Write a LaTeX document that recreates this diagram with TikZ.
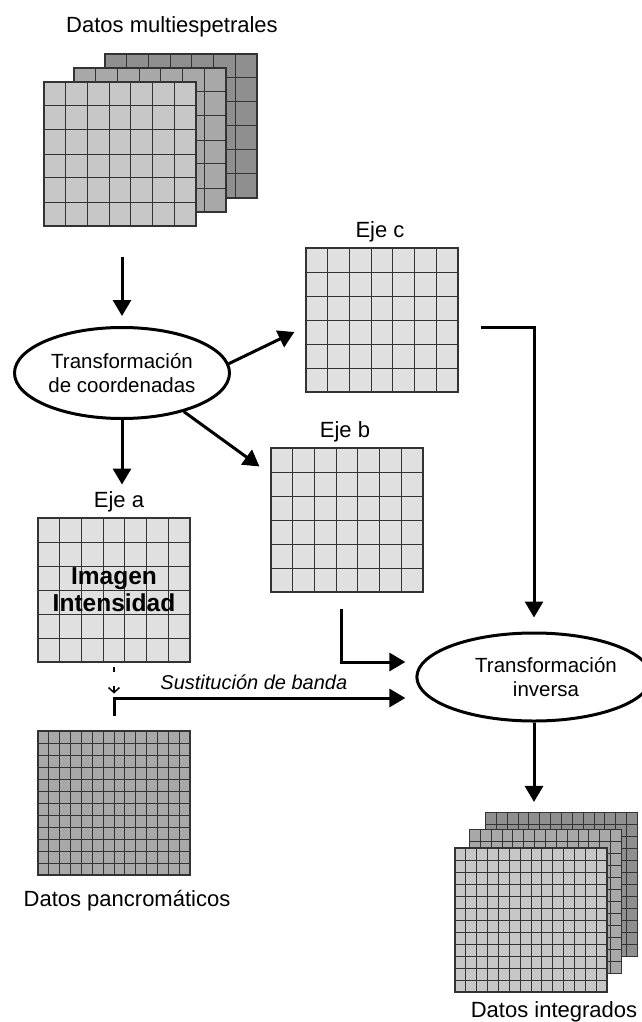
\documentclass[tikz,border=0pt]{standalone}
\usepackage{fontspec}
\setmainfont{Liberation Sans}
\usepackage{tikz}
\usetikzlibrary{shapes.geometric, arrows.meta, positioning, calc}

\definecolor{capauno}{gray}{0.78}
\definecolor{capados}{gray}{0.66}
\definecolor{capatres}{gray}{0.56}
\definecolor{ejegris}{gray}{0.88}
\definecolor{pangris}{gray}{0.66}

% cell lines of a raster: #1 columns, #2 rows
\newcommand{\rejilla}[2]{%
  \foreach \i in {1,...,#1}
    \draw[linea] ($(path picture bounding box.north west)!\i/#1!(path picture bounding box.north east)$) -- ($(path picture bounding box.south west)!\i/#1!(path picture bounding box.south east)$);
  \foreach \j in {1,...,#2}
    \draw[linea] ($(path picture bounding box.north west)!\j/#2!(path picture bounding box.south west)$) -- ($(path picture bounding box.north east)!\j/#2!(path picture bounding box.south east)$);
}

\tikzstyle{linea} = [draw=black!80, line width=1pt]
\tikzstyle{gruesa} = [rectangle, draw=black!80, line width=1.1pt, minimum width=152pt, minimum height=144pt, inner sep=0pt, align=center, path picture={\rejilla{7}{6}}]
\tikzstyle{fina} = [rectangle, draw=black!80, line width=1.1pt, minimum width=152pt, minimum height=144pt, inner sep=0pt, path picture={\rejilla{14}{12}}]
\tikzstyle{proceso} = [ellipse, draw=black, line width=3pt, minimum width=215pt, minimum height=91pt, inner sep=0pt, align=center, font=\fontsize{20.5}{24}\selectfont]
\tikzstyle{rotulo} = [font=\fontsize{22}{26}\selectfont, inner sep=0pt]
\tikzstyle{flecha} = [line width=3pt, -{Triangle[length=16pt,width=18pt]}]
\tikzstyle{trazo} = [line width=1.5pt, dash pattern=on 5pt off 14pt on 8pt off 20pt, -{Straight Barb[length=5pt,width=11pt]}]

\begin{document}
\begin{tikzpicture}[x=1pt, y=-1pt]
\useasboundingbox (0,0) rectangle (642,1022);

% multispectral bands, back to front
\node (multi3) [gruesa, fill=capatres] at (181,126) {};
\node (multi2) [gruesa, fill=capados] at (150,140) {};
\node (multi1) [gruesa, fill=capauno] at (120,154) {};
\node (tmulti) [rotulo, above=16pt of multi3, xshift=-9pt] {Datos multiespetrales};

\node (coord) [proceso] at (122,373) {Transformación\\de coordenadas};

% transformed axes
\node (ejec) [gruesa, fill=ejegris] at (382,320) {};
\node (ejeb) [gruesa, fill=ejegris] at (347,520) {};
\node (ejea) [gruesa, fill=ejegris, font=\bfseries\fontsize{24.5}{27}\selectfont] at (114,590) {Imagen\\Intensidad};
\node (etqc) [rotulo, above=5pt of ejec, xshift=-2pt] {Eje c};
\node (etqb) [rotulo, above=5pt of ejeb, xshift=-2pt] {Eje b};
\node (etqa) [rotulo, above=5pt of ejea, xshift=5pt] {Eje a};

\node (pan) [fina, fill=pangris] at (114,803) {};
\node (tpan) [rotulo, below=15pt of pan, xshift=13pt] {Datos pancromáticos};

\node (inv) [proceso, minimum width=212pt, minimum height=88pt] at (534,677) {\hspace*{24pt}Transformación\\\hspace*{24pt}inversa};

% fused result, back to front
\node (int3) [fina, fill=capatres] at (561.5,884.5) {};
\node (int2) [fina, fill=capados] at (545.5,901.5) {};
\node (int1) [fina, fill=capauno] at (531,920) {};
\node (tint) [rotulo, below=9pt of int1, xshift=23pt] {Datos integrados};

\draw [flecha] ($(coord.north |- multi1.south)+(0,30)$) -- ($(coord.north)+(0,-10)$);
\draw [flecha] (coord.5) -- ($(ejec.west)+(-11,12)$);
\draw [flecha] (coord.-32) -- ($(ejeb.north west)+(-11,19)$);
\draw [flecha] (coord.south) -- ($(coord.south |- etqa.north)+(0,-7)$);
\draw [trazo] ($(ejea.south)+(0,4)$) -- ($(ejea.south)+(0,31)$);
\draw [flecha] ($(pan.north)+(0,-14)$) |- node[pos=0.74, above=7pt, inner sep=0pt, font=\itshape\fontsize{20}{24}\selectfont] {Sustitución de banda} ($(inv.west)+(-10,21)$);
\draw [flecha] ($(ejeb.south)+(-6,16)$) |- ($(inv.west)+(-10,-15)$);
\draw [flecha] ($(ejec.east)+(22,7)$) -| ($(inv.north)+(0,-14)$);
\draw [flecha] (inv.south) -- ($(inv.south |- int3.north)+(0,-10)$);
\end{tikzpicture}
\end{document}
